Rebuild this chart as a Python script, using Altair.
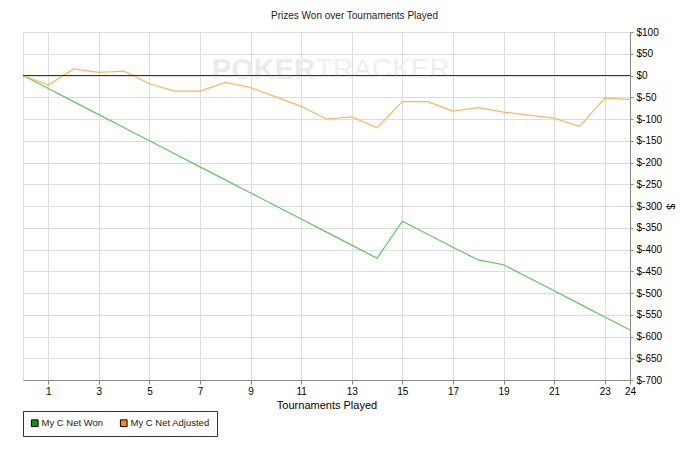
import altair as alt
import pandas as pd

tournaments = list(range(0, 25))
net_won = [0, -30, -60, -90, -120, -150, -180, -210, -240, -270, -300, -330, -360, -390, -420,
           -335, -365, -395, -424, -435, -465, -495, -525, -555, -585]
net_adjusted = [0, -22, 15, 7, 10, -19, -36, -36, -16, -28, -49, -71, -100, -95, -120,
                -60, -60, -82, -74, -84, -91, -98, -117, -52, -55]
series_names = ["My C Net Won", "My C Net Adjusted"]
line_colors = ["#5cc85c", "#ffb55a"]
legend_colors = ["#009900", "#ff8c00"]
x_ticks = [1, 3, 5, 7, 9, 11, 13, 15, 17, 19, 21, 23, 24]
y_ticks = list(range(-700, 101, 50))

rows = []
for i, t in enumerate(tournaments):
    rows.append({"t": t, "v": net_won[i], "s": series_names[0], "name": series_names[0]})
    rows.append({"t": t, "v": net_adjusted[i], "s": series_names[1], "name": series_names[1]})
df = pd.DataFrame(rows)

FONT = "Liberation Sans"
FS = 10
W, H = 607, 348

xscale = alt.Scale(domain=[0, 24], nice=False, zero=False)
yscale = alt.Scale(domain=[-700, 100], nice=False)

x_axis = alt.Axis(values=x_ticks, title="Tournaments Played", labelFlush=False,
                  grid=True, tickSize=4, labelPadding=2, titlePadding=3,
                  titleFontWeight="normal", labelOverlap=False)
y_axis = alt.Axis(orient="right", values=y_ticks, title="$", titleAngle=90,
                  labelExpr="'$' + datum.value", tickSize=3, labelPadding=3,
                  titlePadding=3, grid=True, labelFlush=False, labelOverlap=False,
                  titleFontWeight="normal")

wm = pd.DataFrame({"a": ["POKER"], "b": ["TRACKER"]})
wm1 = alt.Chart(wm).mark_text(
    font=FONT, fontSize=29, fontWeight="bold", color="#ebebeb", align="right", baseline="middle"
).encode(x=alt.value(292), y=alt.value(38), text="a:N")
wm2 = alt.Chart(wm).mark_text(
    font=FONT, fontSize=28, fontWeight="normal", color="#efefef", align="left", baseline="middle"
).encode(x=alt.value(293), y=alt.value(38), text="b:N")

base = alt.Chart(df)

lines = base.mark_line(strokeWidth=1.2).encode(
    x=alt.X("t:Q", scale=xscale, axis=x_axis),
    y=alt.Y("v:Q", scale=yscale, axis=y_axis),
    stroke=alt.Stroke("s:N", scale=alt.Scale(domain=series_names, range=line_colors), legend=None),
    detail="s:N",
)

legend_layer = base.mark_square(opacity=0, size=10).encode(
    x=alt.value(0), y=alt.value(0),
    color=alt.Color("name:N", scale=alt.Scale(domain=series_names, range=legend_colors),
                    legend=alt.Legend(title=None, orient="none", legendX=0, legendY=379,
                                      direction="horizontal", symbolType="square",
                                      symbolOpacity=1, symbolStrokeColor="#000",
                                      symbolStrokeWidth=1, symbolSize=45,
                                      padding=7, strokeColor="#333", fillColor="#fff",
                                      labelFont=FONT, labelFontSize=9.5, labelColor="#222",
                                      columnPadding=14, labelOffset=2)),
)

zero = alt.Chart(pd.DataFrame({"z": [0]})).mark_rule(color="#333", strokeWidth=1).encode(
    y=alt.Y("z:Q", scale=yscale, axis=y_axis)
)

chart = alt.layer(wm1, wm2, lines, zero, legend_layer).resolve_legend(
    color="independent", stroke="independent"
).properties(
    width=W, height=H,
    title=alt.Title("Prizes Won over Tournaments Played", font=FONT, fontSize=FS,
                    fontWeight="normal", color="#222", dx=28, offset=6),
    padding={"left": 15, "top": 24, "right": 62, "bottom": 70},
    autosize=alt.AutoSizeParams(type="none"),
).configure_view(stroke="#333", strokeWidth=1).configure_axis(
    labelFont=FONT, titleFont=FONT, labelFontSize=FS, titleFontSize=FS,
    labelColor="#222", titleColor="#222", titleFontWeight="normal",
    domainColor="#444", tickColor="#444", gridColor="#f0f0f0",
).configure(background="white")

chart.save("out.html", embed_options={"renderer": "svg", "actions": False})
